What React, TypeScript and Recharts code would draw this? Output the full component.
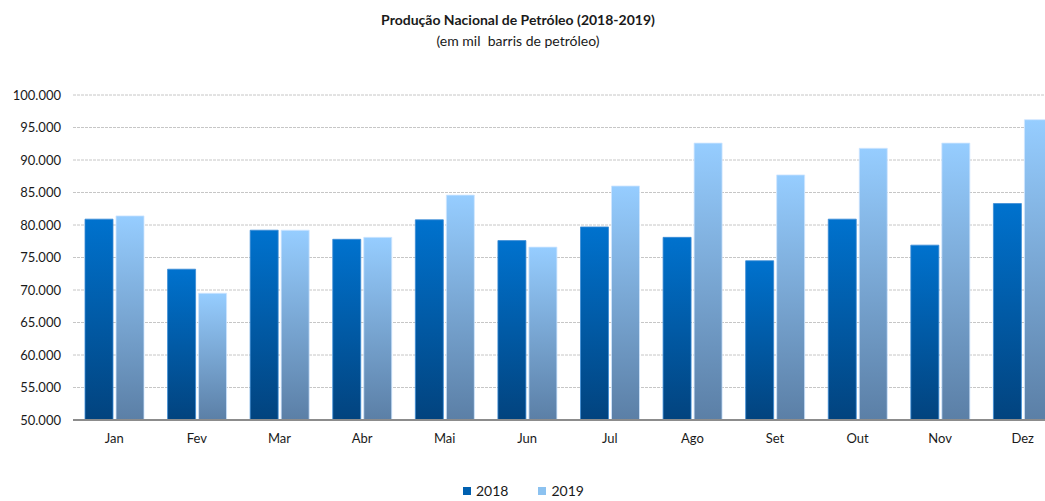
import React from "react";
import { BarChart, Bar, XAxis, YAxis, CartesianGrid } from "recharts";

const months = ["Jan", "Fev", "Mar", "Abr", "Mai", "Jun", "Jul", "Ago", "Set", "Out", "Nov", "Dez"];
const prod2018 = [80900, 73200, 79200, 77800, 80800, 77600, 79700, 78100, 74500, 80900, 76900, 83300];
const prod2019 = [81400, 69500, 79200, 78100, 84600, 76600, 86000, 92600, 87700, 91800, 92600, 96200];
const yTicks = [50000, 55000, 60000, 65000, 70000, 75000, 80000, 85000, 90000, 95000, 100000];

const data = months.map((m, i) => ({ month: m, y2018: prod2018[i], y2019: prod2019[i] }));

const FONT = "Lato, 'Open Sans', sans-serif";
const fmtTick = (v: number) => `${Math.floor(v / 1000)}.${String(v % 1000).padStart(3, "0")}`;

export default function App() {
  return (
    <div
      style={{
        position: "absolute",
        left: 0,
        top: 0,
        width: 1045,
        height: 501,
        overflow: "hidden",
        background: "#fff",
        fontFamily: FONT,
      }}
    >
      <div style={{ position: "absolute", top: 11, width: 1036, textAlign: "center", fontSize: 14, fontWeight: 700, color: "#1a1a1a" }}>
        Produção Nacional de Petróleo (2018-2019)
      </div>
      <div style={{ position: "absolute", top: 32, width: 1036, textAlign: "center", fontSize: 14, color: "#1a1a1a", whiteSpace: "pre" }}>
        (em mil  barris de petróleo)
      </div>
      <BarChart
        width={1070}
        height={501}
        data={data}
        margin={{ top: 95, right: 6, left: 0, bottom: 51 }}
        barGap={3}
        barSize={28}
      >
        <defs>
          <linearGradient id="g2018" x1="0" y1="0" x2="0" y2="1">
            <stop offset="0%" stopColor="#0072CE" />
            <stop offset="100%" stopColor="#02437E" />
          </linearGradient>
          <linearGradient id="g2019" x1="0" y1="0" x2="0" y2="1">
            <stop offset="0%" stopColor="#96CDFF" />
            <stop offset="100%" stopColor="#5B7FA6" />
          </linearGradient>
        </defs>
        <CartesianGrid vertical={false} stroke="#c6c6c6" strokeDasharray="3 1" />
        <XAxis
          dataKey="month"
          tickLine={false}
          axisLine={{ stroke: "#8c8c8c", strokeWidth: 2 }}
          tick={{ fill: "#1a1a1a", fontSize: 13, fontFamily: FONT }}
          tickSize={6}
          tickMargin={8}
          height={30}
        />
        <YAxis
          domain={[50000, 100000]}
          ticks={yTicks}
          allowDataOverflow
          tickFormatter={fmtTick}
          axisLine={false}
          tickLine={false}
          tick={{ fill: "#1a1a1a", fontSize: 13, fontFamily: FONT }}
          tickSize={6}
          tickMargin={6}
          width={73}
        />
        <Bar dataKey="y2018" fill="url(#g2018)" stroke="#3b8bd6" strokeWidth={0.8} isAnimationActive={false} />
        <Bar dataKey="y2019" fill="url(#g2019)" stroke="#cfe6ff" strokeWidth={0.8} isAnimationActive={false} />
      </BarChart>
      <div style={{ position: "absolute", top: 482, left: 463, display: "flex", alignItems: "center", fontSize: 14, lineHeight: "17px", color: "#1a1a1a" }}>
        <span style={{ width: 8, height: 8, background: "#0060b0", marginRight: 5 }} />
        <span style={{ marginRight: 30 }}>2018</span>
        <span style={{ width: 8, height: 8, background: "#8cc2f0", marginRight: 5 }} />
        <span>2019</span>
      </div>
    </div>
  );
}
